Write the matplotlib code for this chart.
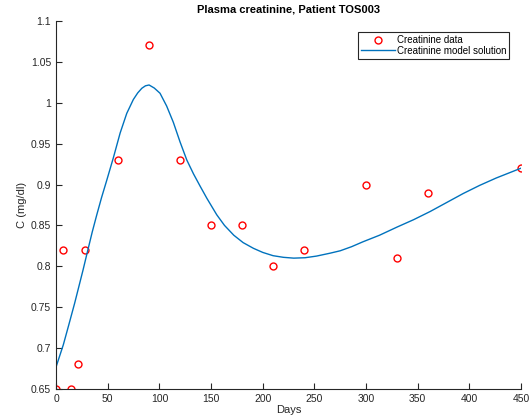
import numpy as np
import matplotlib.pyplot as plt

plt.rcParams['font.family'] = ['Liberation Sans', 'DejaVu Sans']

# measured creatinine
days_data = [0, 7, 14, 21, 28, 60, 90, 120, 150, 180, 210, 240, 300, 330, 360, 450]
creat_data = [0.65, 0.82, 0.65, 0.68, 0.82, 0.93, 1.07, 0.93, 0.85, 0.85, 0.80, 0.82, 0.90, 0.81, 0.89, 0.92]

# model solution
days_model = [0, 7, 12, 18, 22, 26, 30, 35, 39.4, 44, 49, 55.5, 62, 68.4, 74.8, 79, 83,
              86.5, 90, 95, 100.6, 107, 113.5, 120, 126.5, 133, 139.4, 146, 155.5, 163,
              172, 181, 191, 200, 210, 220, 230, 241, 252, 265, 275, 286, 297, 313, 330,
              346, 362, 378, 394, 410, 426, 438, 450]
creat_model = [0.677, 0.704, 0.727, 0.755, 0.775, 0.795, 0.816, 0.842, 0.863, 0.884,
               0.905, 0.933, 0.963, 0.987, 1.004, 1.012, 1.0177, 1.0207, 1.0217, 1.018,
               1.0116, 0.996, 0.976, 0.952, 0.930, 0.913, 0.898, 0.883, 0.863, 0.850,
               0.838, 0.829, 0.822, 0.817, 0.813, 0.811, 0.810, 0.8105, 0.8125, 0.816,
               0.819, 0.824, 0.830, 0.838, 0.848, 0.857, 0.867, 0.878, 0.889, 0.899,
               0.908, 0.914, 0.920]

fig = plt.figure(figsize=(5.29, 4.19), dpi=100)
ax = fig.add_axes([0.106, 0.0716, 0.879, 0.8784])

ax.plot(days_data, creat_data, 'o', mfc='none', mec='red', ms=5, mew=1.0, label='Creatinine data')
ax.plot(days_model, creat_model, '-', color=(0, 0.447, 0.741), lw=1.0, label='Creatinine model solution')

ax.set_xlim(0, 450)
ax.set_ylim(0.65, 1.1)
ax.set_xticks(np.arange(0, 451, 50))
ax.set_yticks(np.arange(0.65, 1.101, 0.05))
ax.set_yticklabels(['0.65', '0.7', '0.75', '0.8', '0.85', '0.9', '0.95', '1', '1.05', '1.1'])

for s in ['top', 'right']:
    ax.spines[s].set_visible(False)
for s in ['left', 'bottom']:
    ax.spines[s].set_color('0.15')
    ax.spines[s].set_linewidth(0.8)
ax.tick_params(direction='in', length=4, width=0.8, colors='0.15', labelsize=7.5)

ax.set_xlabel('Days', fontsize=8, color='0.15', labelpad=1)
ax.set_ylabel('C (mg/dl)', fontsize=8, color='0.15', labelpad=3)
ax.set_title('Plasma creatinine, Patient TOS003', fontsize=8, fontweight='bold', pad=6)

leg = ax.legend(loc='upper right', bbox_to_anchor=(0.975, 0.97), fontsize=7, fancybox=False,
                edgecolor='0.15', framealpha=1, borderpad=0.3, handlelength=3.5,
                handletextpad=0.2, labelspacing=0.1, borderaxespad=0)
leg.get_frame().set_linewidth(0.8)

fig.savefig('out.png', dpi=100)
